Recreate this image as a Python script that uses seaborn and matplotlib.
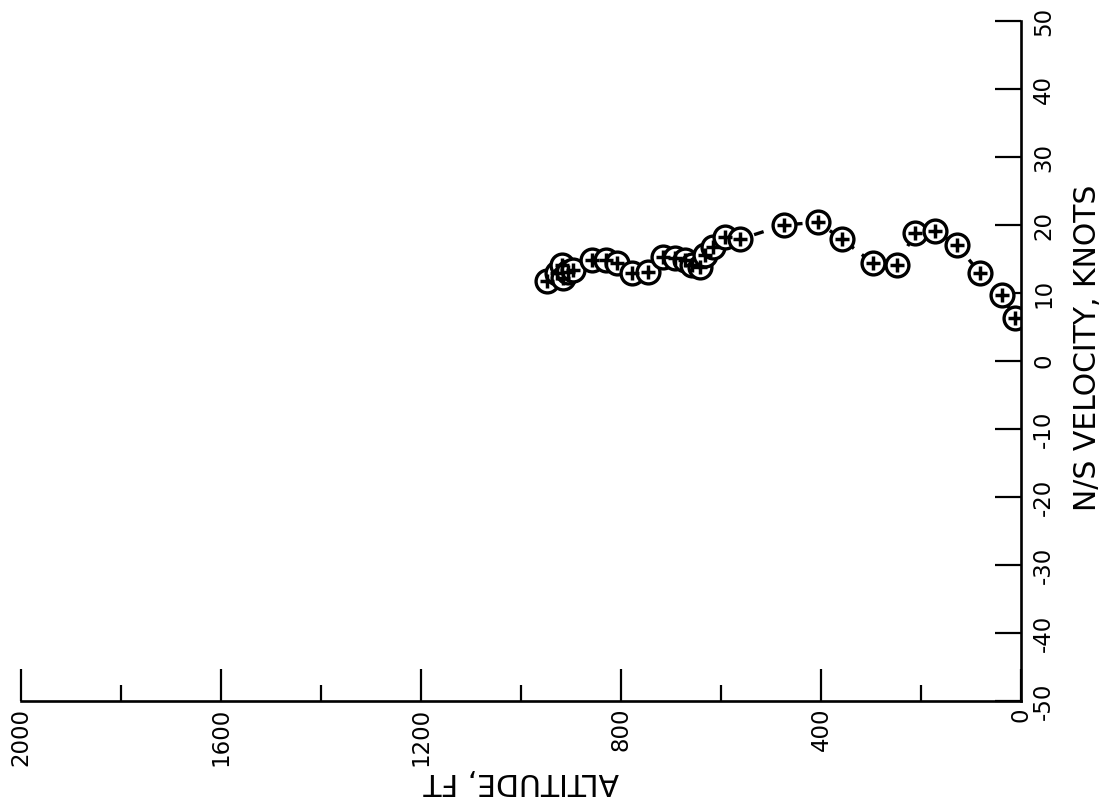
import matplotlib
matplotlib.use("Agg")
import matplotlib.pyplot as plt
import seaborn as sns
import pandas as pd
from matplotlib.ticker import MultipleLocator

altitude_ft = [948, 928, 918, 916, 906, 896, 858, 830, 808, 778, 746, 716, 692, 672,
               658, 642, 632, 616, 592, 562, 474, 406, 358, 296, 248, 212, 172, 128,
               82, 38, 12]
ns_velocity_kt = [11.8, 12.9, 14.1, 12.2, 13.1, 13.4, 14.9, 14.9, 14.4, 12.9, 13.1, 15.3,
                  15.1, 14.9, 14.1, 13.8, 15.6, 16.8, 18.2, 17.9, 20.0, 20.4, 17.9, 14.4,
                  14.1, 18.8, 19.1, 17.1, 12.9, 9.7, 6.3]

x_major_ticks = [0, 400, 800, 1200, 1600, 2000]
y_ticks = [-50, -40, -30, -20, -10, 0, 10, 20, 30, 40, 50]

df = pd.DataFrame({"alt": altitude_ft, "vel": ns_velocity_kt})

sns.set_style("white")
FONT = ["DejaVu Sans Condensed", "Liberation Sans Narrow", "DejaVu Sans"]
plt.rcParams["font.family"] = FONT
plt.rcParams["axes.unicode_minus"] = False
plt.rcParams["text.color"] = "black"
plt.rcParams["xtick.color"] = "black"
plt.rcParams["ytick.color"] = "black"
plt.rcParams["axes.labelcolor"] = "black"

fig = plt.figure(figsize=(11.02, 8.02), dpi=100)
ax = fig.add_axes([21 / 1102, 101 / 802, 1000 / 1102, 680 / 802])

sns.lineplot(data=df, x="alt", y="vel", sort=False, ax=ax, color="black",
             linewidth=2.4, linestyle=(0, (3, 3)), zorder=1)
sns.scatterplot(data=df, x="alt", y="vel", ax=ax, marker="o", s=270,
                facecolor="white", edgecolor="black", linewidth=2.4, zorder=2)
sns.scatterplot(data=df, x="alt", y="vel", ax=ax, marker="+", s=90,
                color="black", linewidth=2.5, zorder=3)

ax.set_xlim(2000, 0)
ax.set_ylim(-50, 50)
ax.set_xticks(x_major_ticks)
ax.xaxis.set_minor_locator(MultipleLocator(200))
ax.set_yticks(y_ticks)

for s in ["top", "left"]:
    ax.spines[s].set_visible(False)
for s in ["bottom", "right"]:
    ax.spines[s].set_visible(True)
    ax.spines[s].set_linewidth(1.9)
    ax.spines[s].set_color("black")

ax.yaxis.tick_right()
ax.tick_params(axis="x", which="major", direction="in", length=23, width=1.6,
               bottom=True, pad=5, colors="black")
ax.tick_params(axis="x", which="minor", direction="in", length=11.5, width=1.6,
               bottom=True, colors="black")
ax.tick_params(axis="y", which="major", direction="in", length=19, width=1.6,
               right=True, left=False, pad=8, colors="black")

for lab in ax.get_xticklabels():
    lab.set_rotation(90)
    lab.set_fontsize(16.5)
    lab.set_ha("center")
    lab.set_va("top")
for lab in ax.get_yticklabels():
    lab.set_rotation(90)
    lab.set_fontsize(16.5)
    lab.set_va("center")
    lab.set_ha("left")

ax.set_xlabel("ALTITUDE, FT", fontsize=21.5, rotation=180, va="center", ha="center",
              color="black")
ax.xaxis.set_label_coords(0.5, -0.118)
ax.set_ylabel("N/S VELOCITY, KNOTS", fontsize=21.5, rotation=90, va="center",
              ha="center", color="black")
ax.yaxis.set_label_position("right")
ax.yaxis.set_label_coords(1.052, 0.52)

ax.grid(False)
fig.savefig("out.png", dpi=100, facecolor="white")
